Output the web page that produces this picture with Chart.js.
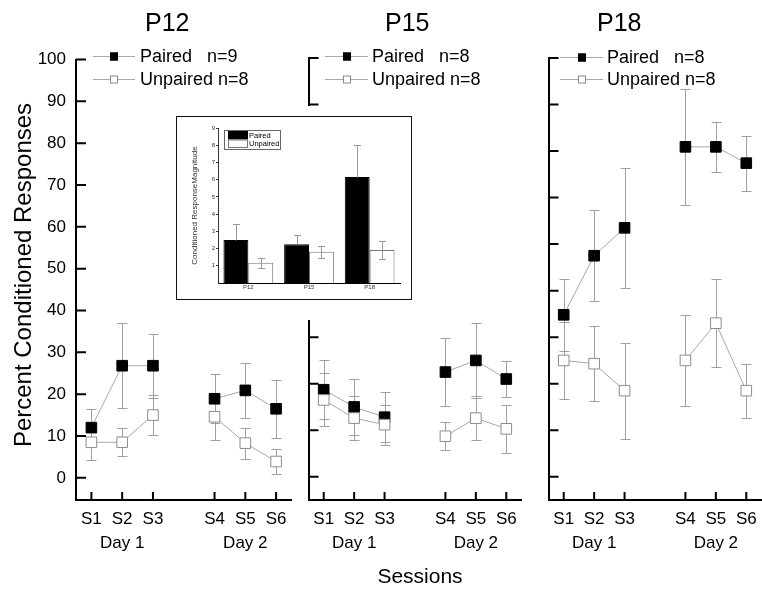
<!DOCTYPE html>
<html>
<head>
<meta charset="utf-8">
<title>Percent Conditioned Responses</title>
<script src="https://cdn.jsdelivr.net/npm/chart.js@4.4.0/dist/chart.umd.min.js"></script>
<style>
  html, body { margin: 0; padding: 0; background: #fff; }
  body {
    width: 762px; height: 589px; overflow: hidden; position: relative;
    font-family: "Liberation Sans", Arial, sans-serif; color: #000;
  }
  canvas, .txt, .inset-bg, .inset-box { position: absolute; }
  .txt { white-space: nowrap; }
  .title { font-size: 25px; line-height: 25px; top: 10px; }
  .sessions { font-size: 21px; line-height: 21px; top: 565px; left: 320px; width: 200px; text-align: center; }
  .ytitle {
    font-size: 24px; line-height: 24px; width: 420px; height: 24px; text-align: center;
    left: -187px; top: 263px; transform: rotate(-90deg);
  }
  .inset-bg { left: 166px; top: 106px; width: 254px; height: 214px; background: #fff; }
  .inset-box { left: 176px; top: 116px; width: 236px; height: 184px; border: 1.5px solid #111; box-sizing: border-box; }
</style>
</head>
<body>
<canvas id="p12" width="300" height="589" style="left:0;top:0"></canvas>
<canvas id="p15" width="230" height="589" style="left:300px;top:0"></canvas>
<canvas id="p18" width="230" height="589" style="left:540px;top:0"></canvas>
<div class="inset-bg"></div>
<div class="inset-box"></div>
<canvas id="inset" width="236" height="184" style="left:176px;top:116px"></canvas>
<div id="titles"></div>
<div class="txt sessions">Sessions</div>
<div class="txt ytitle">Percent Conditioned Responses</div>

<script>
// valeurs (P15 / P18 : axe propre, graduations 0..90)
const sessions = ['S1', ['S2', 'Day 1'], 'S3', '', 'S4', ['S5', 'Day 2'], 'S6']
const ages = ['P12', 'P15', 'P18']

const p12Paired = [12.0, 26.8, 26.8, 18.9, 20.9, 16.5]
const p12PairedErr = [4.5, 10.1, 7.6, 5.9, 6.5, 7.0]
const p12Unpaired = [8.5, 8.5, 15.0, 14.6, 8.3, 3.9]
const p12UnpairedErr = [4.2, 3.3, 4.7, 5.5, 3.7, 3.0]

const p15Paired = [18.7, 15.0, 12.8, 22.5, 25.0, 21.0]
const p15PairedErr = [6.3, 6.0, 5.4, 7.4, 8.1, 3.9]
const p15Unpaired = [16.5, 12.6, 11.2, 8.7, 12.6, 10.3]
const p15UnpairedErr = [5.7, 4.8, 4.3, 3.0, 4.8, 5.2]

const p18Paired = [34.8, 47.5, 53.5, 70.9, 70.9, 67.4]
const p18PairedErr = [7.7, 9.8, 12.9, 12.4, 5.3, 5.9]
const p18Unpaired = [25.0, 24.3, 18.5, 25.0, 33.0, 18.5]
const p18UnpairedErr = [8.2, 8.0, 10.3, 9.7, 9.5, 5.8]

const yTicksP12 = [0, 10, 20, 30, 40, 50, 60, 70, 80, 90, 100]
const yTicksLater = [0, 10, 20, 30, 40, 50, 60, 70, 80, 90]

const legendP12 = ['Paired   n=9', 'Unpaired n=8']
const legendP15 = ['Paired   n=8', 'Unpaired n=8']
const legendP18 = ['Paired   n=8', 'Unpaired n=8']

// encart : amplitude de la réponse conditionnée
const magPaired = [2.5, 2.25, 6.15]
const magPairedErr = [0.9, 0.55, 1.85]
const magUnpaired = [1.17, 1.82, 1.92]
const magUnpairedErr = [0.28, 0.34, 0.52]
const magTicks = [1, 2, 3, 4, 5, 6, 7, 8, 9]

const FONT = '"Liberation Sans", Arial, sans-serif'
Chart.defaults.font.family = FONT
Chart.defaults.color = "#000"

// trou entre S3 et S4 (pas de ligne entre les deux jours)
const withGap = arr => [...arr.slice(0, 3), null, ...arr.slice(3)]

function drawErrors(chart, opts) {
    const ctx = chart.ctx
    ctx.save()
    ctx.strokeStyle = opts.color
    ctx.lineWidth = 1
    chart.data.datasets.forEach((ds, di) => {
        if (!ds.errors) return
        const meta = chart.getDatasetMeta(di)
        const y = chart.scales[meta.yAxisID]
        meta.data.forEach((el, i) => {
            const v = ds.data[i], e = ds.errors[i]
            if (v == null || e == null) return
            const x = Math.round(el.x) + 0.5
            const top = Math.round(y.getPixelForValue(v + e)) + 0.5
            const bot = Math.round(y.getPixelForValue(ds.errorUpOnly ? v : v - e)) + 0.5
            const w = opts.cap / 2
            ctx.beginPath()
            ctx.moveTo(x, top); ctx.lineTo(x, bot)
            ctx.moveTo(x - w, top); ctx.lineTo(x + w, top)
            if (!ds.errorUpOnly) { ctx.moveTo(x - w, bot); ctx.lineTo(x + w, bot) }
            ctx.stroke()
        })
    })
    ctx.restore()
}

const errorBars = {
    id: "errorBars",
    beforeDatasetsDraw(chart, args, opts) { if (!opts.front) drawErrors(chart, opts) },
    afterDatasetsDraw(chart, args, opts) { if (opts.front) drawErrors(chart, opts) },
}

// graduations tournées vers l'intérieur
const inwardTicks = {
    id: "inwardTicks",
    afterDraw(chart) {
        const { ctx, chartArea: a, scales: { x, y } } = chart
        ctx.save()
        ctx.strokeStyle = "#000"
        ctx.lineWidth = 2
        ctx.beginPath()
        y.ticks.forEach((t, i) => {
            const py = y.getPixelForTick(i)
            ctx.moveTo(a.left, py); ctx.lineTo(a.left + 10, py)
        })
        x.ticks.forEach((t, i) => {
            if (t.label === "") return
            const px = x.getPixelForTick(i)
            ctx.moveTo(px, a.bottom); ctx.lineTo(px, a.bottom - 8)
        })
        ctx.stroke()
        ctx.restore()
    },
}

const lineLegend = {
    id: "lineLegend",
    afterDraw(chart, args, opts) {
        const ctx = chart.ctx
        ctx.save()
        ctx.font = "18px " + FONT
        ctx.textBaseline = "middle"
        chart.data.datasets.forEach((ds, i) => {
            const y = opts.rows[i]
            ctx.strokeStyle = ds.borderColor
            ctx.lineWidth = 1
            ctx.beginPath(); ctx.moveTo(opts.x0, y + 0.5); ctx.lineTo(opts.x1, y + 0.5); ctx.stroke()
            const mx = Math.round((opts.x0 + opts.x1) / 2), s = 8
            ctx.fillStyle = ds.pointBackgroundColor
            ctx.fillRect(mx - s / 2, y - s / 2 + 0.5, s, s)
            ctx.strokeStyle = ds.pointBorderColor
            ctx.strokeRect(mx - s / 2 + 0.5, y - s / 2 + 1, s - 1, s - 1)
            ctx.fillStyle = "#000"
            ctx.fillText(ds.label, opts.textX, y + 1)
        })
        ctx.restore()
    },
}

const barLegend = {
    id: "barLegend",
    afterDraw(chart, args, o) {
        const ctx = chart.ctx
        ctx.save()
        ctx.fillStyle = "#fff"
        ctx.fillRect(o.x, o.y, o.w, o.h)
        ctx.strokeStyle = "#666"
        ctx.lineWidth = 1
        ctx.strokeRect(o.x + 0.5, o.y + 0.5, o.w, o.h)
        ctx.font = "7.5px " + FONT
        ctx.textBaseline = "middle"
        chart.data.datasets.forEach((ds, i) => {
            const ry = o.y + 1 + i * o.sh
            ctx.fillStyle = ds.backgroundColor
            ctx.fillRect(o.x + 4, ry, o.sw, o.sh)
            ctx.strokeStyle = ds.borderColor
            ctx.strokeRect(o.x + 4.5, ry + 0.5, o.sw - 1, o.sh - 1)
            ctx.fillStyle = "#000"
            ctx.fillText(ds.label, o.x + 5 + o.sw, ry + o.sh / 2 + 0.5)
        })
        ctx.restore()
    },
}

function panelChart(id, paired, pairedErr, unpaired, unpairedErr, yTicks, labels, geo) {
    return new Chart(document.getElementById(id), {
        type: "line",
        data: {
            labels: sessions,
            datasets: [
                {
                    label: labels[0], data: withGap(paired), errors: withGap(pairedErr), order: 1,
                    borderColor: "#a8a8a8", backgroundColor: "#000",
                    pointBackgroundColor: "#000", pointBorderColor: "#000",
                },
                {
                    label: labels[1], data: withGap(unpaired), errors: withGap(unpairedErr), order: 0,
                    borderColor: "#a8a8a8", backgroundColor: "#fff",
                    pointBackgroundColor: "#fff", pointBorderColor: "#8c8c8c",
                },
            ],
        },
        options: {
            responsive: false,
            animation: false,
            layout: { padding: { top: geo.top, right: geo.right, left: 0, bottom: 0 } },
            datasets: {
                line: {
                    borderWidth: 1, tension: 0, spanGaps: false, fill: false,
                    pointStyle: "rect", pointRadius: 7.5, pointBorderWidth: 1,
                },
            },
            scales: {
                x: {
                    type: "category",
                    offset: true,
                    grid: { display: false, drawTicks: false },
                    border: { display: true, color: "#000", width: 2 },
                    ticks: { autoSkip: false, maxRotation: 0, padding: 7, color: "#000", font: { size: 17, lineHeight: 1.41 } },
                    afterFit: s => { s.height = 89 },
                },
                y: {
                    min: geo.min,
                    max: geo.max,
                    grid: { display: false, drawTicks: false },
                    border: { display: true, color: "#000", width: 2 },
                    afterBuildTicks: s => { s.ticks = yTicks.map(v => ({ value: v })) },
                    ticks: { display: geo.showLabels, padding: 10, color: "#000", font: { size: 17 } },
                    afterFit: s => { s.width = geo.axisW },
                },
            },
            plugins: {
                colors: { enabled: false },
                legend: { display: false },
                tooltip: { enabled: false },
                errorBars: { cap: 10, color: "#a0a0a0", front: false },
                lineLegend: geo.legend,
            },
        },
        plugins: [errorBars, inwardTicks, lineLegend],
    })
}

panelChart("p12", p12Paired, p12PairedErr, p12Unpaired, p12UnpairedErr, yTicksP12, legendP12, {
    top: 59.5, right: 7, min: -5.3, max: 100, axisW: 76, showLabels: true,
    legend: { x0: 93, x1: 135, textX: 140, rows: [56, 79] },
})
panelChart("p15", p15Paired, p15PairedErr, p15Unpaired, p15UnpairedErr, yTicksLater, legendP15, {
    top: 58, right: 5, min: -5, max: 90, axisW: 8, showLabels: false,
    legend: { x0: 25, x1: 68, textX: 72, rows: [56, 79] },
})
panelChart("p18", p18Paired, p18PairedErr, p18Unpaired, p18UnpairedErr, yTicksLater, legendP18, {
    top: 58, right: 5, min: -5, max: 90, axisW: 8, showLabels: false,
    legend: { x0: 20, x1: 63, textX: 67, rows: [57, 79] },
})

new Chart(document.getElementById("inset"), {
    type: "bar",
    data: {
        labels: ages,
        datasets: [
            {
                label: "Paired", data: magPaired, errors: magPairedErr, errorUpOnly: true,
                backgroundColor: "#000", borderColor: "#000", borderWidth: 1,
            },
            {
                label: "Unpaired", data: magUnpaired, errors: magUnpairedErr,
                backgroundColor: "#fff", borderColor: "#777", borderWidth: 1,
            },
        ],
    },
    options: {
        responsive: false,
        animation: false,
        layout: { padding: { top: 12, right: 12, left: 0, bottom: 0 } },
        datasets: { bar: { categoryPercentage: 0.82, barPercentage: 1 } },
        scales: {
            x: {
                grid: { display: false, drawTicks: false },
                border: { color: "#000", width: 1 },
                ticks: { color: "#333", padding: 1, font: { size: 6 } },
                afterFit: s => { s.height = 17 },
            },
            y: {
                min: 0,
                max: 9,
                grid: { drawOnChartArea: false, tickLength: 2, color: "#333" },
                border: { color: "#333", width: 1 },
                afterBuildTicks: s => { s.ticks = magTicks.map(v => ({ value: v })) },
                ticks: { color: "#333", padding: 1, font: { size: 6 } },
                title: {
                    display: true, text: "Conditioned ResponseMagnitude", color: "#333",
                    font: { size: 8 }, padding: { top: 14, bottom: 0 },
                },
                afterFit: s => { s.width = 42 },
            },
        },
        plugins: {
            colors: { enabled: false },
            legend: { display: false },
            tooltip: { enabled: false },
            errorBars: { cap: 7, color: "#999", front: true },
            barLegend: { x: 48, y: 14, w: 56, h: 19, sw: 20, sh: 8.5 },
        },
    },
    plugins: [errorBars, barLegend],
})

// titres des panneaux
const titleLeft = [145, 385, 597]
const titles = document.getElementById("titles")
ages.forEach((t, i) => {
    const d = document.createElement("div")
    d.className = "txt title"
    d.style.left = titleLeft[i] + "px"
    d.textContent = t
    titles.appendChild(d)
})
</script>
</body>
</html>
